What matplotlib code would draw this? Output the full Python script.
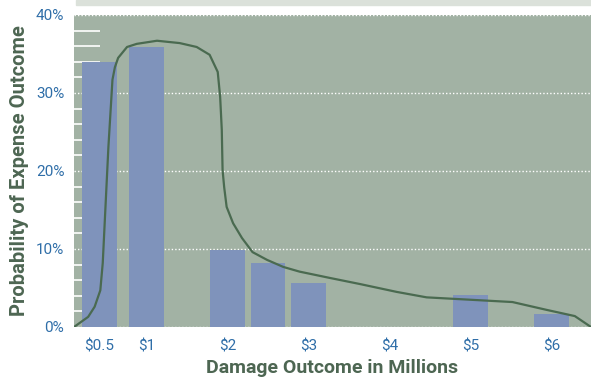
import matplotlib
matplotlib.use('Agg')
import matplotlib.pyplot as plt
from matplotlib.ticker import MultipleLocator, FuncFormatter
from matplotlib.patches import Rectangle

# --- data ---
bar_pos = [0.42, 1, 2, 2.5, 3, 5, 6]          # damage outcome, $M (first bar squeezed to the edge)
bar_prob = [34.0, 35.9, 9.9, 8.2, 5.6, 4.1, 1.7]  # probability, %

tick_pos = [0.42, 1, 2, 3, 4, 5, 6]
tick_labels = ["$0.5", "$1", "$2", "$3", "$4", "$5", "$6"]

curve_x = [0.105, 0.28, 0.36, 0.43, 0.46, 0.49, 0.53, 0.58, 0.61, 0.65, 0.76,
           0.88, 1.13, 1.41, 1.62, 1.78, 1.88, 1.91, 1.93, 1.94, 1.96, 1.99,
           2.07, 2.18, 2.31, 2.49, 2.69, 2.89, 3.26, 3.64, 4.09, 4.46, 4.99,
           5.52, 5.94, 6.29, 6.49]
curve_y = [0.0, 1.3, 2.6, 4.7, 8.2, 14.6, 23.1, 31.7, 33.3, 34.5, 35.9,
           36.3, 36.7, 36.4, 35.9, 34.9, 32.7, 29.5, 25.3, 20.1, 17.9, 15.4,
           13.3, 11.4, 9.6, 8.6, 7.7, 7.1, 6.3, 5.5, 4.5, 3.8, 3.5,
           3.2, 2.2, 1.4, 0.0]

# --- style ---
BG = '#a2b2a4'
BAR = '#7f93bb'
LINE = '#4a6a50'
TICK_BLUE = '#2f6ea8'
LABEL_GREEN = '#4d6652'
FONTS = ['Roboto', 'DejaVu Sans']

plt.rcParams['font.family'] = FONTS

fig = plt.figure(figsize=(5.91, 3.80), dpi=100)
ax = fig.add_axes([74 / 591, 53 / 380, 517 / 591, 312 / 380])
ax.set_facecolor(BG)

# light band across the top
fig.patches.append(Rectangle((76 / 591, 375 / 380), 1 - 76 / 591, 5 / 380,
                             transform=fig.transFigure, color='#dbe1da', zorder=0))

ax.bar(bar_pos, bar_prob, width=0.43, color=BAR, zorder=1)
ax.plot(curve_x, curve_y, color=LINE, lw=1.6, zorder=3)

ax.set_xlim(0.105, 6.49)
ax.set_ylim(0, 40)

ax.set_xticks(tick_pos)
ax.set_xticklabels(tick_labels)
ax.yaxis.set_major_locator(MultipleLocator(10))
ax.yaxis.set_minor_locator(MultipleLocator(2))
ax.yaxis.set_major_formatter(FuncFormatter(lambda v, p: f"{int(v)}%"))

ax.tick_params(axis='x', length=0, pad=9, labelsize=11, labelcolor=TICK_BLUE)
ax.tick_params(axis='y', which='major', length=0, pad=7, labelsize=11, labelcolor=TICK_BLUE)
ax.tick_params(axis='y', which='minor', direction='in', length=19, width=1.2, color='white')

ax.set_axisbelow(True)
ax.grid(axis='y', which='major', color='white', linestyle=(0, (1, 1.5)), linewidth=1)

for s in ax.spines.values():
    s.set_visible(False)

ax.set_xlabel("Damage Outcome in Millions", fontsize=14, fontweight='bold',
              color=LABEL_GREEN, labelpad=4)
ax.set_ylabel("Probability of Expense Outcome", fontsize=14.5, fontweight='bold',
              color=LABEL_GREEN, labelpad=5)

fig.savefig('out.png', dpi=100, facecolor='white')
